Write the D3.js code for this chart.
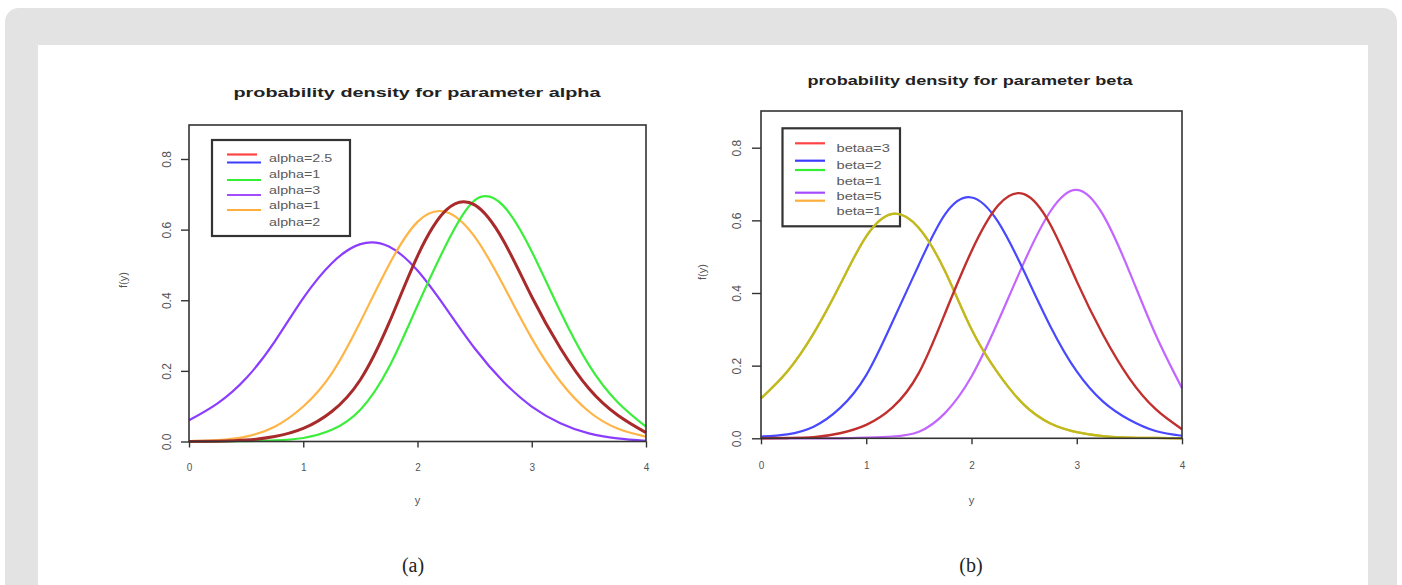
<!DOCTYPE html>
<html>
<head>
<meta charset="utf-8">
<script src="https://cdn.jsdelivr.net/npm/d3@7"></script>
<style>
    body { margin: 0; background: #fff; }
    svg { display: block; }
    text { font-family: "Liberation Sans", Arial, sans-serif; }
</style>
</head>
<body>
<div id="chart"></div>
<script>
// 1. Data (x grid is the variable "y")
const yGrid = [0, 0.25, 0.5, 0.75, 1, 1.25, 1.5, 1.75, 2, 2.25, 2.5, 2.75, 3, 3.25, 3.5, 3.75, 4];
const densityTicks = [0, 0.2, 0.4, 0.6, 0.8];
const yTicks = [0, 1, 2, 3, 4];

// panel (a)
const alphaRed    = [0, 0.001, 0.004, 0.014, 0.037, 0.085, 0.175, 0.335, 0.525, 0.655, 0.670, 0.570, 0.410, 0.265, 0.150, 0.075, 0.025];
const alphaGreen  = [0, 0, 0.001, 0.003, 0.010, 0.033, 0.090, 0.210, 0.385, 0.557, 0.683, 0.668, 0.538, 0.368, 0.217, 0.112, 0.042];
const alphaPurple = [0.060, 0.108, 0.179, 0.283, 0.406, 0.505, 0.559, 0.552, 0.484, 0.377, 0.264, 0.170, 0.099, 0.052, 0.023, 0.009, 0.002];
const alphaOrange = [0.001, 0.004, 0.014, 0.042, 0.099, 0.193, 0.339, 0.500, 0.622, 0.650, 0.580, 0.443, 0.292, 0.170, 0.085, 0.037, 0.014];
const alphaLegend = ["alpha=2.5", "alpha=1", "alpha=3", "alpha=1", "alpha=2"];

// panel (b)
const betaRed    = [0, 0.001, 0.003, 0.014, 0.037, 0.085, 0.180, 0.345, 0.515, 0.640, 0.672, 0.588, 0.432, 0.285, 0.165, 0.080, 0.025];
const betaBlue   = [0.005, 0.011, 0.032, 0.083, 0.174, 0.321, 0.478, 0.617, 0.663, 0.597, 0.459, 0.308, 0.184, 0.101, 0.051, 0.020, 0.007];
const betaOne    = [0.110, 0.184, 0.289, 0.422, 0.556, 0.618, 0.579, 0.459, 0.300, 0.180, 0.092, 0.041, 0.017, 0.006, 0.002, 0.001, 0];
const betaPurple = [0, 0, 0, 0, 0.002, 0.005, 0.018, 0.070, 0.170, 0.320, 0.485, 0.625, 0.684, 0.615, 0.459, 0.285, 0.138];
const betaLegend = ["betaa=3", "beta=2", "beta=1", "beta=5", "beta=1"];

// 2. Layout of the two panels
const panels = [
    {
        title: "probability density for parameter alpha", titleX: 417, titleY: 92, titleLen: 367,
        caption: "(a)", captionX: 413,
        left: 189, right: 646, top: 125, bottom: 441.5, tick08: 159,
        yTickLen: 8, yLabelOff: 22, ylabX: 123, ylabY: 280, xLabY: 467, xNameY: 500,
        stretch: 1.3,
        curves: [
            { values: alphaPurple, color: "#8a3cff", width: 2.2 },
            { values: alphaOrange, color: "#ffb446", width: 2.2 },
            { values: alphaGreen, color: "#3cee3c", width: 2.2 },
            { values: alphaRed, color: "#a82a2a", width: 3 }
        ],
        legend: {
            x: 212, y: 140, w: 138, h: 96,
            lines: [
                { dy: 14.5, color: "#ff4444", x1: 227, x2: 257 },
                { dy: 22.5, color: "#3c3cff", x1: 227, x2: 261 },
                { dy: 40, color: "#33ee33", x1: 227, x2: 261 },
                { dy: 55, color: "#a44cff", x1: 227, x2: 261 },
                { dy: 70, color: "#ffae3c", x1: 227, x2: 261 }
            ],
            textX: 269, textDy: [18, 33.5, 49.5, 64.5, 82], labels: alphaLegend
        }
    },
    {
        title: "probability density for parameter beta", titleX: 970, titleY: 80, titleLen: 325,
        caption: "(b)", captionX: 971,
        left: 761, right: 1182, top: 111, bottom: 438.3, tick08: 147.7,
        yTickLen: 9, yLabelOff: 24, ylabX: 702, ylabY: 272, xLabY: 466, xNameY: 500,
        stretch: 1.33,
        curves: [
            { values: betaPurple, color: "#c266ff", width: 2.2 },
            { values: betaBlue, color: "#4848ff", width: 2.2 },
            { values: betaOne, color: "#ffae3c", width: 2.2 },
            { values: betaOne, color: "#bcbc1e", width: 2.2 },
            { values: betaRed, color: "#c0302e", width: 2.4 }
        ],
        legend: {
            x: 782.5, y: 128.3, w: 117.5, h: 98,
            lines: [
                { dy: 15, color: "#ff4444", x1: 795, x2: 825 },
                { dy: 32.4, color: "#3c3cff", x1: 795, x2: 825 },
                { dy: 41.7, color: "#33ee33", x1: 795, x2: 825 },
                { dy: 64.4, color: "#a44cff", x1: 795, x2: 825 },
                { dy: 72.4, color: "#ffae3c", x1: 795, x2: 825 }
            ],
            textX: 836.5, textDy: [19.5, 36.5, 52.5, 68, 82.5], labels: betaLegend
        }
    }
];

// 3. Frame
const svg = d3.select("#chart").append("svg")
    .attr("width", 1402)
    .attr("height", 585);

svg.append("rect")
    .attr("x", 5).attr("y", 8)
    .attr("width", 1392).attr("height", 640)
    .attr("rx", 14)
    .attr("fill", "#e3e3e3");

svg.append("rect")
    .attr("x", 38).attr("y", 45)
    .attr("width", 1330).attr("height", 600)
    .attr("fill", "#fff");

// stretch text horizontally (the source plot is scaled wider than tall)
const stretchText = (sel, k) => sel.each(function () {
    const len = this.getComputedTextLength();
    d3.select(this).attr("textLength", len * k).attr("lengthAdjust", "spacingAndGlyphs");
});

// 4. Drawing one panel
const drawPanel = p => {
    const xScale = d3.scaleLinear().domain([0, 4]).range([p.left, p.right]);
    const yScale = d3.scaleLinear().domain([0, 0.8]).range([p.bottom, p.tick08]);
    const g = svg.append("g");

    // legend first, curves go over it
    const lg = g.append("g");
    lg.append("rect")
        .attr("x", p.legend.x).attr("y", p.legend.y)
        .attr("width", p.legend.w).attr("height", p.legend.h)
        .attr("fill", "#fff")
        .attr("stroke", "#333")
        .attr("stroke-width", 2.2);
    lg.selectAll(".lline")
        .data(p.legend.lines)
        .join("line")
        .attr("class", "lline")
        .attr("x1", d => d.x1).attr("x2", d => d.x2)
        .attr("y1", d => p.legend.y + d.dy).attr("y2", d => p.legend.y + d.dy)
        .attr("stroke", d => d.color)
        .attr("stroke-width", 2.2);
    lg.selectAll(".ltext")
        .data(p.legend.labels)
        .join("text")
        .attr("class", "ltext")
        .attr("x", p.legend.textX)
        .attr("y", (d, i) => p.legend.y + p.legend.textDy[i])
        .attr("dominant-baseline", "central")
        .attr("fill", "#5a5a5a")
        .style("font-size", "11px")
        .text(d => d)
        .call(stretchText, p.stretch);

    // curves
    const line = d3.line()
        .x((d, i) => xScale(yGrid[i]))
        .y(d => yScale(Math.max(0, d)))
        .curve(d3.curveNatural);

    g.selectAll(".krivulja")
        .data(p.curves)
        .join("path")
        .attr("class", "krivulja")
        .attr("fill", "none")
        .attr("stroke", d => d.color)
        .attr("stroke-width", d => d.width)
        .attr("stroke-linejoin", "round")
        .attr("d", d => line(d.values));

    // plot box
    g.append("rect")
        .attr("x", p.left).attr("y", p.top)
        .attr("width", p.right - p.left).attr("height", p.bottom - p.top)
        .attr("fill", "none")
        .attr("stroke", "#333")
        .attr("stroke-width", 1.6);

    // y axis (rotated labels, R style)
    const yAxis = g.append("g")
        .attr("transform", `translate(${p.left},0)`)
        .call(d3.axisLeft(yScale).tickValues(densityTicks).tickSize(p.yTickLen).tickFormat(d3.format(".1f")));
    yAxis.attr("font-family", null).attr("font-size", null);
    yAxis.select(".domain").remove();
    yAxis.selectAll("line").attr("stroke", "#333").attr("stroke-width", 1.4);
    yAxis.selectAll("text")
        .attr("x", null).attr("dy", null)
        .attr("transform", `translate(${-p.yLabelOff},0) rotate(-90)`)
        .attr("text-anchor", "middle")
        .attr("dominant-baseline", "central")
        .attr("fill", "#555")
        .style("font-size", "12px");

    // x axis
    const xAxis = g.append("g")
        .attr("transform", `translate(0,${p.bottom})`)
        .call(d3.axisBottom(xScale).tickValues(yTicks).tickSize(6).tickFormat(d3.format("d")));
    xAxis.attr("font-family", null).attr("font-size", null);
    xAxis.select(".domain").remove();
    xAxis.selectAll("line").attr("stroke", "#333").attr("stroke-width", 1.4);
    xAxis.selectAll("text")
        .attr("y", p.xLabY - p.bottom).attr("dy", null)
        .attr("dominant-baseline", "central")
        .attr("fill", "#555")
        .style("font-size", "10px");

    // axis names
    g.append("text")
        .attr("x", (p.left + p.right) / 2).attr("y", p.xNameY)
        .attr("text-anchor", "middle")
        .attr("dominant-baseline", "central")
        .attr("fill", "#555")
        .style("font-size", "11px")
        .text("y");

    g.append("text")
        .attr("transform", `translate(${p.ylabX},${p.ylabY}) rotate(-90)`)
        .attr("text-anchor", "middle")
        .attr("dominant-baseline", "central")
        .attr("fill", "#555")
        .style("font-size", "11px")
        .text("f(y)");

    // title
    g.append("text")
        .attr("x", p.titleX).attr("y", p.titleY)
        .attr("text-anchor", "middle")
        .attr("dominant-baseline", "central")
        .attr("fill", "#222")
        .attr("textLength", p.titleLen)
        .attr("lengthAdjust", "spacingAndGlyphs")
        .style("font-size", "13px")
        .style("font-weight", "bold")
        .text(p.title);

    // caption under the panel
    g.append("text")
        .attr("x", p.captionX).attr("y", 565)
        .attr("text-anchor", "middle")
        .attr("dominant-baseline", "central")
        .attr("fill", "#222")
        .style("font-family", "'Liberation Serif', 'DejaVu Serif', serif")
        .style("font-size", "20px")
        .text(p.caption);
};

panels.forEach(drawPanel);
</script>
</body>
</html>
